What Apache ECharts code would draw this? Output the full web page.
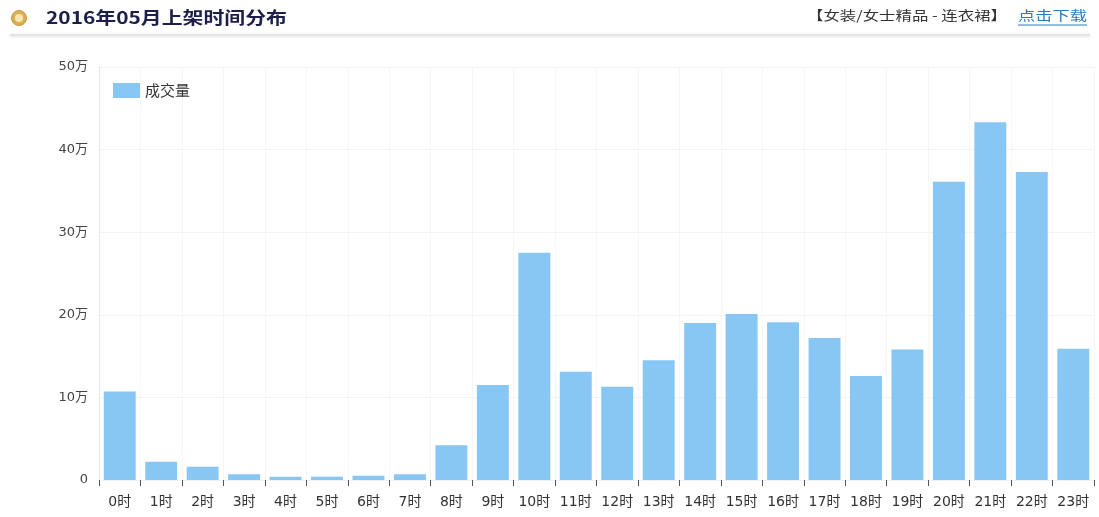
<!DOCTYPE html>
<html>
<head>
<meta charset="utf-8">
<style>
  html, body { margin: 0; padding: 0; background: #fff; }
  #chart { width: 1099px; height: 517px; }
</style>
<script src="https://cdn.jsdelivr.net/npm/echarts@6/dist/echarts.min.js"></script>
</head>
<body>
<div id="chart"></div>
<script>
// Hourly listing volume, May 2016
const hours = ['0时','1时','2时','3时','4时','5时','6时','7时','8时','9时','10时','11时',
               '12时','13时','14时','15时','16时','17时','18时','19时','20时','21时','22时','23时'];
const volume = [107000, 22000, 16000, 7000, 4000, 4000, 5000, 7000, 42000, 115000, 275000, 131000,
                113000, 145000, 190000, 201000, 191000, 172000, 126000, 158000, 361000, 433000, 373000, 159000];
const yTicks = [0, 100000, 200000, 300000, 400000, 500000];
const seriesName = '成交量';
const titleText = '2016年05月上架时间分布';
const categoryText = '【女装/女士精品 - 连衣裙】';
const linkText = '点击下载';

const cjk = '"Noto Sans CJK SC", "Noto Sans", sans-serif';
const axisFont = '"DejaVu Sans", "Noto Sans CJK SC", sans-serif';

// horizontal stretch factor so a header string spans a given width
const measureCtx = document.createElement('canvas').getContext('2d');
function stretch(text, font, width) {
  measureCtx.font = font;
  return width / measureCtx.measureText(text).width;
}

function headerText(text, x, y, size, weight, color, width) {
  const font = weight + ' ' + size + 'px ' + cjk;
  return {
    type: 'text', x: x, y: y,
    scaleX: stretch(text, font, width),
    style: {
      text: text, fill: color, fontSize: size, fontWeight: weight,
      fontFamily: cjk, verticalAlign: 'middle', align: 'left'
    }
  };
}

const chart = echarts.init(document.getElementById('chart'));

chart.setOption({
  backgroundColor: '#ffffff',
  animation: false,
  textStyle: { fontFamily: axisFont },
  graphic: [
    // header bullet
    { type: 'circle', shape: { cx: 19, cy: 18, r: 7.5 },
      style: { fill: '#dcae55', stroke: '#c8963c', lineWidth: 1 } },
    { type: 'circle', shape: { cx: 19, cy: 18, r: 4 },
      style: { fill: '#f8e6b0' } },
    headerText(titleText, 46, 18, 17, 'bold', '#1c1f4a', 241),
    headerText(categoryText, 807, 15, 13, 'normal', '#333333', 200),
    headerText(linkText, 1018, 15, 13, 'normal', '#2b7bbf', 69),
    // link underline
    { type: 'line', shape: { x1: 1018, y1: 25, x2: 1087, y2: 25 },
      style: { stroke: '#2b7bbf', lineWidth: 1 } },
    // header divider with soft shadow
    { type: 'rect', shape: { x: 10, y: 34, width: 1080, height: 2 },
      style: { fill: '#e4e4e4', shadowBlur: 3, shadowColor: 'rgba(0,0,0,0.12)', shadowOffsetY: 1 } }
  ],
  legend: {
    data: [seriesName],
    left: 108, top: 78,
    itemWidth: 27, itemHeight: 15,
    itemGap: 8,
    icon: 'rect',
    textStyle: { fontSize: 15, color: '#333', fontFamily: cjk }
  },
  grid: { left: 99, right: 5, top: 67, bottom: 37, containLabel: false },
  xAxis: {
    type: 'category',
    data: hours,
    axisLine: { show: true, lineStyle: { color: '#f2f2f2' } },
    axisTick: { show: true, alignWithLabel: false, length: 6, lineStyle: { color: '#555' } },
    axisLabel: { fontSize: 14, color: '#333', margin: 15, interval: 0, fontFamily: axisFont },
    splitLine: { show: true, lineStyle: { color: '#f6f6f6' } }
  },
  yAxis: {
    type: 'value',
    min: yTicks[0], max: yTicks[yTicks.length - 1], interval: yTicks[1] - yTicks[0],
    axisLine: { show: true, lineStyle: { color: '#e6e6e6' } },
    axisTick: { show: false },
    axisLabel: {
      fontSize: 13, color: '#444', margin: 11, fontFamily: axisFont,
      formatter: v => v === 0 ? '0' : (v / 10000) + '万'
    },
    splitLine: { show: true, lineStyle: { color: '#f3f3f3' } }
  },
  series: [{
    name: seriesName,
    type: 'bar',
    data: volume,
    barCategoryGap: '23%',
    itemStyle: { color: '#88c6f4' }
  }]
});
</script>
</body>
</html>
